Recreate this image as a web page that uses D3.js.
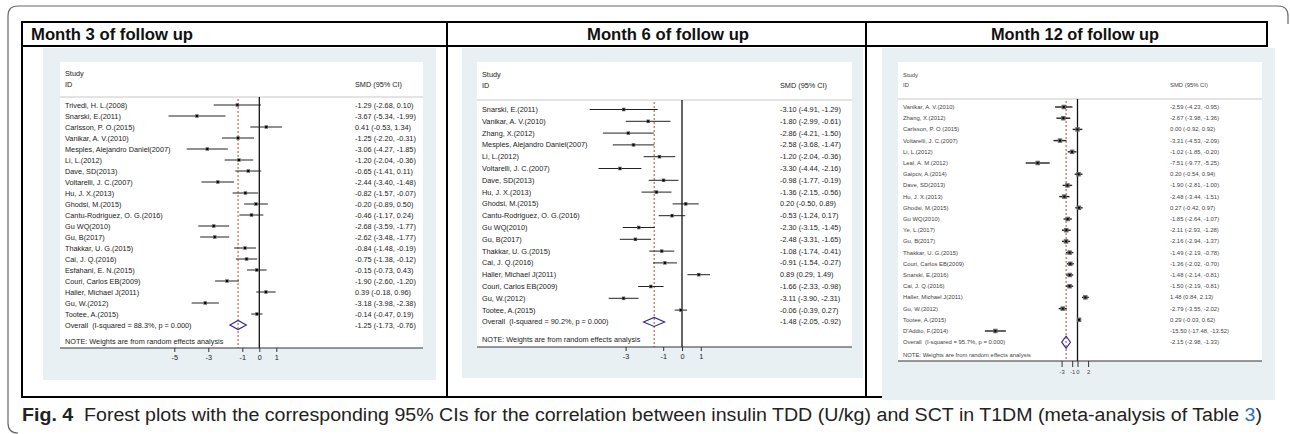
<!DOCTYPE html>
<html>
<head>
<meta charset="utf-8">
<script src="https://cdn.jsdelivr.net/npm/d3@7"></script>
<style>
body { margin: 0; background: #fff; }
svg { display: block; }
text { white-space: pre; }
</style>
</head>
<body>
<svg id="fig" width="1290" height="434"></svg>
<script>
// ---- month 3 of follow up ----
var m3Studies = ["Trivedi, H. L.(2008)", "Snarski, E.(2011)", "Carlsson, P. O.(2015)", "Vanikar, A. V.(2010)",
  "Mesples, Alejandro Daniel(2007)", "Li, L.(2012)", "Dave, SD(2013)", "Voltarelli, J. C.(2007)", "Hu, J. X.(2013)",
  "Ghodsi, M.(2015)", "Cantu-Rodriguez, O. G.(2016)", "Gu WQ(2010)", "Gu, B(2017)", "Thakkar, U. G.(2015)",
  "Cai, J. Q.(2016)", "Esfahani, E. N.(2015)", "Couri, Carlos EB(2009)", "Haller, Michael J(2011)", "Gu, W.(2012)",
  "Tootee, A.(2015)"];
var m3Smd = [-1.29, -3.67, 0.41, -1.25, -3.06, -1.20, -0.65, -2.44, -0.82, -0.20, -0.46, -2.68, -2.62, -0.84, -0.75, -0.15, -1.90, 0.39, -3.18, -0.14];
var m3Lo  = [-2.68, -5.34, -0.53, -2.20, -4.27, -2.04, -1.41, -3.40, -1.57, -0.89, -1.17, -3.59, -3.48, -1.48, -1.38, -0.73, -2.60, -0.18, -3.98, -0.47];
var m3Hi  = [0.10, -1.99, 1.34, -0.31, -1.85, -0.36, 0.11, -1.48, -0.07, 0.50, 0.24, -1.77, -1.77, -0.19, -0.12, 0.43, -1.20, 0.96, -2.38, 0.19];
var m3Overall = [-1.25, -1.73, -0.76];
var m3Isq = "88.3%";
var m3Ticks = [-5, -3, -1, 0, 1];

// ---- month 6 of follow up ----
var m6Studies = ["Snarski, E.(2011)", "Vanikar, A. V.(2010)", "Zhang, X.(2012)", "Mesples, Alejandro Daniel(2007)",
  "Li, L.(2012)", "Voltarelli, J. C.(2007)", "Dave, SD(2013)", "Hu, J. X.(2013)", "Ghodsi, M.(2015)",
  "Cantu-Rodriguez, O. G.(2016)", "Gu WQ(2010)", "Gu, B(2017)", "Thakkar, U. G.(2015)", "Cai, J. Q.(2016)",
  "Haller, Michael J(2011)", "Couri, Carlos EB(2009)", "Gu, W.(2012)", "Tootee, A.(2015)"];
var m6Smd = [-3.10, -1.80, -2.86, -2.58, -1.20, -3.30, -0.98, -1.36, 0.20, -0.53, -2.30, -2.48, -1.08, -0.91, 0.89, -1.66, -3.11, -0.06];
var m6Lo  = [-4.91, -2.99, -4.21, -3.68, -2.04, -4.44, -1.77, -2.15, -0.50, -1.24, -3.15, -3.31, -1.74, -1.54, 0.29, -2.33, -3.90, -0.39];
var m6Hi  = [-1.29, -0.61, -1.50, -1.47, -0.36, -2.16, -0.19, -0.56, 0.89, 0.17, -1.45, -1.65, -0.41, -0.27, 1.49, -0.98, -2.31, 0.27];
var m6Overall = [-1.48, -2.05, -0.92];
var m6Isq = "90.2%";
var m6Ticks = [-3, -1, 0, 1];

// ---- month 12 of follow up ----
var m12Studies = ["Vanikar, A. V.(2010)", "Zhang, X.(2012)", "Carlsson, P. O.(2015)", "Voltarelli, J. C.(2007)",
  "Li, L.(2012)", "Leal, A. M.(2012)", "Gaipov, A.(2014)", "Dave, SD(2013)", "Hu, J. X.(2013)", "Ghodsi, M.(2015)",
  "Gu WQ(2010)", "Ye, L.(2017)", "Gu, B(2017)", "Thakkar, U. G.(2015)", "Couri, Carlos EB(2009)", "Snarski, E.(2016)",
  "Cai, J. Q.(2016)", "Haller, Michael J(2011)", "Gu, W.(2012)", "Tootee, A.(2015)", "D'Addio, F.(2014)"];
var m12Smd = [-2.59, -2.67, 0.00, -3.31, -1.02, -7.51, 0.20, -1.90, -2.48, 0.27, -1.85, -2.11, -2.16, -1.49, -1.36, -1.48, -1.50, 1.48, -2.79, 0.29, -15.50];
var m12Lo  = [-4.23, -3.98, -0.92, -4.53, -1.85, -9.77, -0.54, -2.81, -3.44, -0.42, -2.64, -2.93, -2.94, -2.19, -2.02, -2.14, -2.19, 0.84, -3.55, -0.03, -17.48];
var m12Hi  = [-0.95, -1.36, 0.92, -2.09, -0.20, -5.25, 0.94, -1.00, -1.51, 0.97, -1.07, -1.28, -1.37, -0.78, -0.70, -0.81, -0.81, 2.13, -2.02, 0.62, -13.52];
var m12Overall = [-2.15, -2.98, -1.33];
var m12Isq = "95.7%";
var m12Ticks = [-3, -1, 0, 2];

var headers = ["Month 3 of follow up", "Month 6 of follow up", "Month 12 of follow up"];

var sans = "'Liberation Sans',Arial,sans-serif";
var svg = d3.select("#fig");

function ci(v, lo, hi) {
  return v.toFixed(2) + " (" + lo.toFixed(2) + ", " + hi.toFixed(2) + ")";
}

// outer rounded frame
svg.append("path")
  .attr("d", "M18,433 Q8,433 8,423 V16 Q8,6 18,6 H1278 Q1288,6 1288,16 V24")
  .attr("fill", "none").attr("stroke", "#666").attr("stroke-width", 1.2);

// one forest plot panel
function forest(p) {
  var g = svg.append("g");
  var n = p.studies.length;
  g.append("rect").attr("x", p.bg[0]).attr("y", p.bg[1])
    .attr("width", p.bg[2] - p.bg[0]).attr("height", p.bg[3] - p.bg[1]).attr("fill", "#e9f0f3");
  g.append("rect").attr("x", p.plot[0]).attr("y", p.plot[1])
    .attr("width", p.plot[2] - p.plot[0]).attr("height", p.axisY - p.plot[1]).attr("fill", "#fff");

  var x = d3.scaleLinear().domain(p.domain).range(p.range);
  var y = d3.scaleLinear().domain([0, n]).range([p.first, p.first + n * p.step]);

  var txt = function(s, tx, ty) {
    return g.append("text").attr("x", tx).attr("y", ty).attr("dy", "0.35em")
      .attr("font-family", sans).attr("font-size", p.fs).attr("fill", p.ink).text(s);
  };
  txt("Study", p.labelX, p.studyY);
  txt("ID", p.labelX, p.idY);
  txt("SMD (95% CI)", p.smdX, p.idY);

  g.append("line").attr("x1", p.plot[0]).attr("x2", p.plot[2]).attr("y1", p.hdrLine).attr("y2", p.hdrLine)
    .attr("stroke", "#c8c8c8").attr("stroke-width", 1);

  // null line and overall (dashed) line
  g.append("line").attr("x1", x(0)).attr("x2", x(0)).attr("y1", p.hdrLine).attr("y2", p.axisY)
    .attr("stroke", "#111").attr("stroke-width", 1.3);
  g.append("line").attr("x1", x(p.overall[0])).attr("x2", x(p.overall[0]))
    .attr("y1", p.hdrLine + 2).attr("y2", p.axisY)
    .attr("stroke", "#c0282d").attr("stroke-width", 0.9).attr("stroke-dasharray", "2,2");

  var rows = g.selectAll(".row").data(p.studies).enter().append("g").attr("class", "row");
  rows.append("line")
    .attr("x1", function(d, i) { return x(p.lo[i]); })
    .attr("x2", function(d, i) { return x(p.hi[i]); })
    .attr("y1", function(d, i) { return y(i); })
    .attr("y2", function(d, i) { return y(i); })
    .attr("stroke", "#222").attr("stroke-width", p.lw);
  rows.append("rect")
    .attr("x", function(d, i) { return x(p.smd[i]) - p.box / 2; })
    .attr("y", function(d, i) { return y(i) - p.box / 2; })
    .attr("width", p.box).attr("height", p.box).attr("fill", "#666");
  rows.append("rect")
    .attr("x", function(d, i) { return x(p.smd[i]) - 1; })
    .attr("y", function(d, i) { return y(i) - 1; })
    .attr("width", 2).attr("height", 2).attr("fill", "#000");
  rows.append("text")
    .attr("x", p.labelX).attr("y", function(d, i) { return y(i); }).attr("dy", "0.35em")
    .attr("font-family", sans).attr("font-size", p.fs).attr("fill", p.ink)
    .text(function(d) { return d; });
  rows.append("text")
    .attr("x", p.smdX).attr("y", function(d, i) { return y(i); }).attr("dy", "0.35em")
    .attr("font-family", sans).attr("font-size", p.fs).attr("fill", p.ink)
    .text(function(d, i) { return ci(p.smd[i], p.lo[i], p.hi[i]); });

  // overall diamond
  var oy = y(n);
  var o = p.overall;
  g.append("path")
    .attr("d", "M" + x(o[1]) + "," + oy + " L" + x(o[0]) + "," + (oy - p.dh) + " L" + x(o[2]) + "," + oy +
      " L" + x(o[0]) + "," + (oy + p.dh) + " Z")
    .attr("fill", "none").attr("stroke", "#2a2a8c").attr("stroke-width", 1.1);
  txt("Overall  (I-squared = " + p.isq + ", p = 0.000)", p.labelX, oy);
  txt(ci(o[0], o[1], o[2]), p.smdX, oy);
  txt("NOTE: Weights are from random effects analysis", p.labelX, p.noteY);

  // x axis
  g.append("line").attr("x1", p.plot[0]).attr("x2", p.plot[2]).attr("y1", p.axisY).attr("y2", p.axisY)
    .attr("stroke", "#333").attr("stroke-width", 1.2);
  var ax = g.append("g").attr("transform", "translate(0," + p.axisY + ")")
    .call(d3.axisBottom(x).tickValues(p.ticks).tickSize(p.tick).tickSizeOuter(0)
      .tickFormat(function(d) { return String(d); }));
  ax.select(".domain").remove();
  ax.selectAll("line").attr("stroke", "#333");
  ax.selectAll("text").attr("font-family", sans).attr("font-size", p.fs).attr("fill", p.ink)
    .attr("y", p.tick + 3);
}

forest({
  studies: m3Studies, smd: m3Smd, lo: m3Lo, hi: m3Hi, overall: m3Overall, isq: m3Isq, ticks: m3Ticks,
  domain: [-5, 1], range: [174.3, 276.3],
  bg: [43, 48, 436, 380], plot: [60, 62, 423], axisY: 348,
  studyY: 73, idY: 84, hdrLine: 97, first: 105, step: 11,
  labelX: 65, smdX: 355, noteY: 341, fs: 7.3, ink: "#222", lw: 1, box: 3.5, dh: 4.5, tick: 4
});
forest({
  studies: m6Studies, smd: m6Smd, lo: m6Lo, hi: m6Hi, overall: m6Overall, isq: m6Isq, ticks: m6Ticks,
  domain: [-3, 1], range: [625.6, 700.8],
  bg: [462, 48, 863, 378], plot: [477, 62, 852], axisY: 347,
  studyY: 74, idY: 85, hdrLine: 100, first: 109.5, step: 11.8,
  labelX: 482, smdX: 780, noteY: 339, fs: 7.3, ink: "#222", lw: 1, box: 3.5, dh: 4.5, tick: 4
});

// table grid (drawn before the last panel, whose background covers its right/bottom edge)
var grid = svg.append("g").attr("stroke", "#000").attr("stroke-width", 2);
grid.append("rect").attr("x", 22).attr("y", 22).attr("width", 1245).attr("height", 24).attr("fill", "none");
grid.append("line").attr("x1", 22).attr("x2", 22).attr("y1", 22).attr("y2", 397);
grid.append("line").attr("x1", 447).attr("x2", 447).attr("y1", 22).attr("y2", 397);
grid.append("line").attr("x1", 866).attr("x2", 866).attr("y1", 22).attr("y2", 397);
grid.append("line").attr("x1", 21).attr("x2", 1267).attr("y1", 397).attr("y2", 397);

forest({
  studies: m12Studies, smd: m12Smd, lo: m12Lo, hi: m12Hi, overall: m12Overall, isq: m12Isq, ticks: m12Ticks,
  domain: [-3, 2], range: [1061.6, 1088.1],
  bg: [882, 48, 1275, 400], plot: [898, 62, 1262], axisY: 361,
  studyY: 75, idY: 85, hdrLine: 99, first: 107, step: 11.2,
  labelX: 903, smdX: 1170, noteY: 355, fs: 5.9, ink: "#444", lw: 1.4, box: 4.5, dh: 6, tick: 6
});

// column headers
var hx = [31, 668, 1075];
svg.selectAll(".hdr").data(headers).enter().append("text")
  .attr("x", function(d, i) { return hx[i]; })
  .attr("y", 40)
  .attr("text-anchor", function(d, i) { return i === 0 ? "start" : "middle"; })
  .attr("font-family", sans).attr("font-weight", "bold").attr("font-size", 16).attr("fill", "#111")
  .attr("textLength", function(d, i) { return i === 2 ? 168 : 162; })
  .attr("lengthAdjust", "spacingAndGlyphs")
  .text(function(d) { return d; });

// caption
var cap = svg.append("text").attr("x", 22).attr("y", 421)
  .attr("font-family", sans).attr("font-size", 18).attr("fill", "#222")
  .attr("textLength", 1240).attr("lengthAdjust", "spacingAndGlyphs");
cap.append("tspan").attr("font-weight", "bold").text("Fig. 4");
cap.append("tspan").text("  Forest plots with the corresponding 95% CIs for the correlation between insulin TDD (U/kg) and SCT in T1DM (meta-analysis of Table ");
cap.append("tspan").attr("fill", "#2a6ebb").text("3");
cap.append("tspan").text(")");
</script>
</body>
</html>
